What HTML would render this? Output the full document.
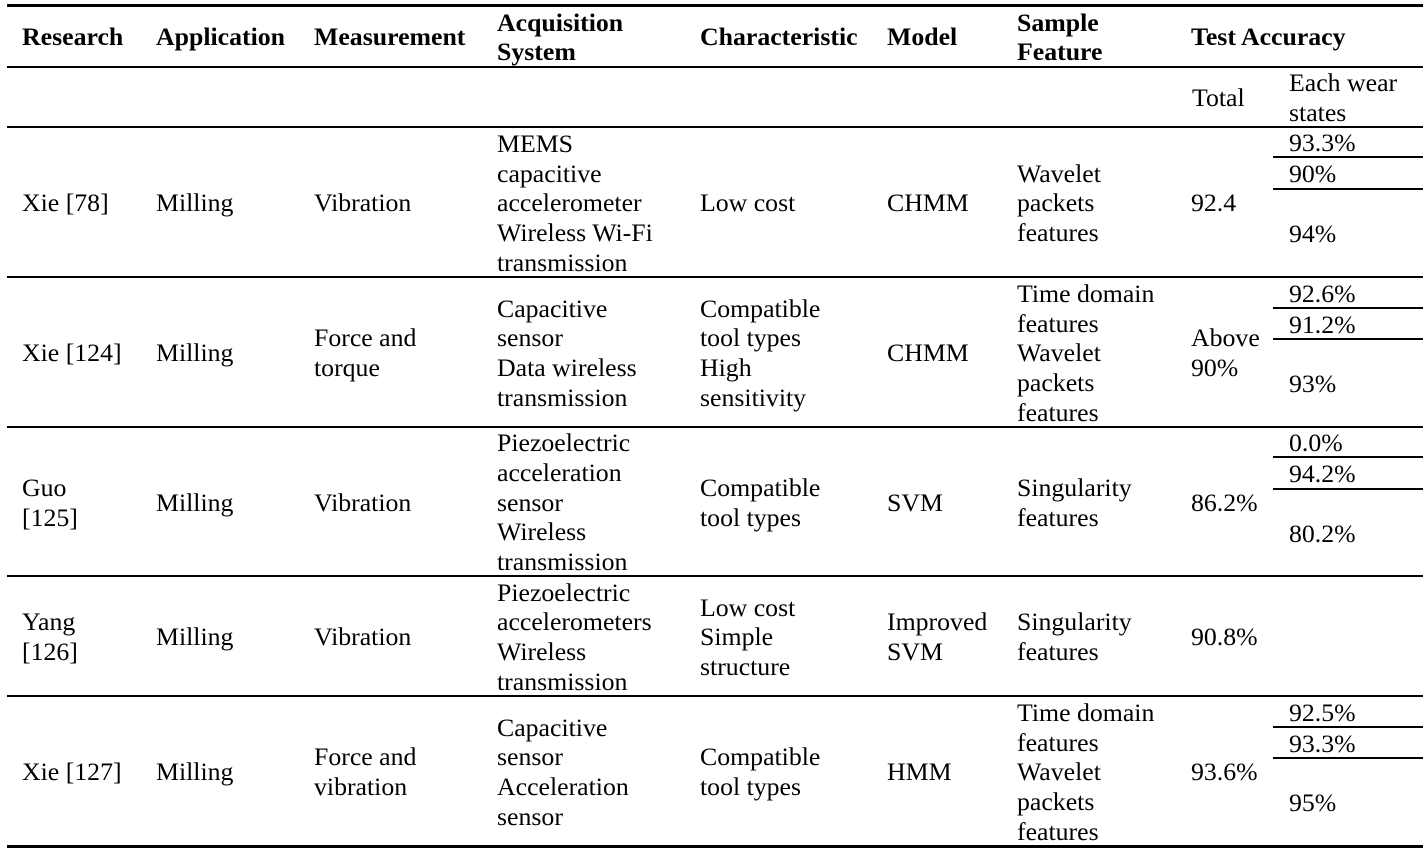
<!DOCTYPE html>
<html>
<head>
<meta charset="utf-8">
<style>
  html, body { margin:0; padding:0; background:#fff; }
  body { width:1427px; height:853px; position:relative; overflow:hidden;
         font-family:"Liberation Serif", "Times New Roman", serif; font-size:25.8px; color:#000; }
  .l { position:absolute; background:#000; }
  .c { position:absolute; display:flex; align-items:center; line-height:29.7px; white-space:nowrap; margin-top:1.1px; }
  .h { font-weight:bold; line-height:29px; margin-top:0.4px; }
</style>
</head>
<body>
<!-- horizontal rules -->
<div class="l" style="left:7px;width:1416px;top:4px;height:3px;"></div>
<div class="l" style="left:7px;width:1416px;top:66px;height:2px;"></div>
<div class="l" style="left:7px;width:1416px;top:126px;height:2px;"></div>
<div class="l" style="left:7px;width:1416px;top:276px;height:2px;"></div>
<div class="l" style="left:7px;width:1416px;top:426px;height:2px;"></div>
<div class="l" style="left:7px;width:1416px;top:575px;height:2px;"></div>
<div class="l" style="left:7px;width:1416px;top:695px;height:2px;"></div>
<div class="l" style="left:7px;width:1416px;top:845px;height:3px;"></div>
<!-- sub rules -->
<div class="l" style="left:1273px;width:150px;top:156px;height:2px;"></div>
<div class="l" style="left:1273px;width:150px;top:188px;height:2px;"></div>
<div class="l" style="left:1273px;width:150px;top:307px;height:2px;"></div>
<div class="l" style="left:1273px;width:150px;top:338px;height:2px;"></div>
<div class="l" style="left:1273px;width:150px;top:456px;height:2px;"></div>
<div class="l" style="left:1273px;width:150px;top:488px;height:2px;"></div>
<div class="l" style="left:1273px;width:150px;top:726px;height:2px;"></div>
<div class="l" style="left:1273px;width:150px;top:757px;height:2px;"></div>

<!-- header -->
<div class="c h" style="left:22px;top:7px;height:59px;">Research</div>
<div class="c h" style="left:156px;top:7px;height:59px;">Application</div>
<div class="c h" style="left:314px;top:7px;height:59px;">Measurement</div>
<div class="c h" style="left:497px;top:7px;height:59px;"><div>Acquisition<br>System</div></div>
<div class="c h" style="left:700px;top:7px;height:59px;">Characteristic</div>
<div class="c h" style="left:887px;top:7px;height:59px;">Model</div>
<div class="c h" style="left:1017px;top:7px;height:59px;"><div>Sample<br>Feature</div></div>
<div class="c h" style="left:1191px;top:7px;height:59px;">Test Accuracy</div>

<!-- subheader -->
<div class="c" style="left:1192px;top:68px;height:58px;">Total</div>
<div class="c" style="left:1289px;top:68px;height:58px;"><div>Each wear<br>states</div></div>

<!-- Row 1 -->
<div class="c" style="left:22px;top:128px;height:148px;">Xie [78]</div>
<div class="c" style="left:156px;top:128px;height:148px;">Milling</div>
<div class="c" style="left:314px;top:128px;height:148px;">Vibration</div>
<div class="c" style="left:497px;top:128px;height:148px;"><div>MEMS<br>capacitive<br>accelerometer<br>Wireless Wi-Fi<br>transmission</div></div>
<div class="c" style="left:700px;top:128px;height:148px;">Low cost</div>
<div class="c" style="left:887px;top:128px;height:148px;">CHMM</div>
<div class="c" style="left:1017px;top:128px;height:148px;"><div>Wavelet<br>packets<br>features</div></div>
<div class="c" style="left:1191px;top:128px;height:148px;">92.4</div>
<div class="c" style="left:1289px;top:128px;height:28px;">93.3%</div>
<div class="c" style="left:1289px;top:158px;height:30px;">90%</div>
<div class="c" style="left:1289px;top:190px;height:86px;">94%</div>

<!-- Row 2 -->
<div class="c" style="left:22px;top:278px;height:148px;">Xie [124]</div>
<div class="c" style="left:156px;top:278px;height:148px;">Milling</div>
<div class="c" style="left:314px;top:278px;height:148px;"><div>Force and<br>torque</div></div>
<div class="c" style="left:497px;top:278px;height:148px;"><div>Capacitive<br>sensor<br>Data wireless<br>transmission</div></div>
<div class="c" style="left:700px;top:278px;height:148px;"><div>Compatible<br>tool types<br>High<br>sensitivity</div></div>
<div class="c" style="left:887px;top:278px;height:148px;">CHMM</div>
<div class="c" style="left:1017px;top:278px;height:148px;"><div>Time domain<br>features<br>Wavelet<br>packets<br>features</div></div>
<div class="c" style="left:1191px;top:278px;height:148px;"><div>Above<br>90%</div></div>
<div class="c" style="left:1289px;top:278px;height:29px;">92.6%</div>
<div class="c" style="left:1289px;top:309px;height:29px;">91.2%</div>
<div class="c" style="left:1289px;top:340px;height:86px;">93%</div>

<!-- Row 3 -->
<div class="c" style="left:22px;top:428px;height:147px;"><div>Guo<br>[125]</div></div>
<div class="c" style="left:156px;top:428px;height:147px;">Milling</div>
<div class="c" style="left:314px;top:428px;height:147px;">Vibration</div>
<div class="c" style="left:497px;top:428px;height:147px;"><div>Piezoelectric<br>acceleration<br>sensor<br>Wireless<br>transmission</div></div>
<div class="c" style="left:700px;top:428px;height:147px;"><div>Compatible<br>tool types</div></div>
<div class="c" style="left:887px;top:428px;height:147px;">SVM</div>
<div class="c" style="left:1017px;top:428px;height:147px;"><div>Singularity<br>features</div></div>
<div class="c" style="left:1191px;top:428px;height:147px;">86.2%</div>
<div class="c" style="left:1289px;top:428px;height:28px;">0.0%</div>
<div class="c" style="left:1289px;top:458px;height:30px;">94.2%</div>
<div class="c" style="left:1289px;top:490px;height:85px;">80.2%</div>

<!-- Row 4 -->
<div class="c" style="left:22px;top:577px;height:118px;"><div>Yang<br>[126]</div></div>
<div class="c" style="left:156px;top:577px;height:118px;">Milling</div>
<div class="c" style="left:314px;top:577px;height:118px;">Vibration</div>
<div class="c" style="left:497px;top:577px;height:118px;"><div>Piezoelectric<br>accelerometers<br>Wireless<br>transmission</div></div>
<div class="c" style="left:700px;top:577px;height:118px;"><div>Low cost<br>Simple<br>structure</div></div>
<div class="c" style="left:887px;top:577px;height:118px;"><div>Improved<br>SVM</div></div>
<div class="c" style="left:1017px;top:577px;height:118px;"><div>Singularity<br>features</div></div>
<div class="c" style="left:1191px;top:577px;height:118px;">90.8%</div>

<!-- Row 5 -->
<div class="c" style="left:22px;top:697px;height:148px;">Xie [127]</div>
<div class="c" style="left:156px;top:697px;height:148px;">Milling</div>
<div class="c" style="left:314px;top:697px;height:148px;"><div>Force and<br>vibration</div></div>
<div class="c" style="left:497px;top:697px;height:148px;"><div>Capacitive<br>sensor<br>Acceleration<br>sensor</div></div>
<div class="c" style="left:700px;top:697px;height:148px;"><div>Compatible<br>tool types</div></div>
<div class="c" style="left:887px;top:697px;height:148px;">HMM</div>
<div class="c" style="left:1017px;top:697px;height:148px;"><div>Time domain<br>features<br>Wavelet<br>packets<br>features</div></div>
<div class="c" style="left:1191px;top:697px;height:148px;">93.6%</div>
<div class="c" style="left:1289px;top:697px;height:29px;">92.5%</div>
<div class="c" style="left:1289px;top:728px;height:29px;">93.3%</div>
<div class="c" style="left:1289px;top:759px;height:86px;">95%</div>
</body>
</html>
